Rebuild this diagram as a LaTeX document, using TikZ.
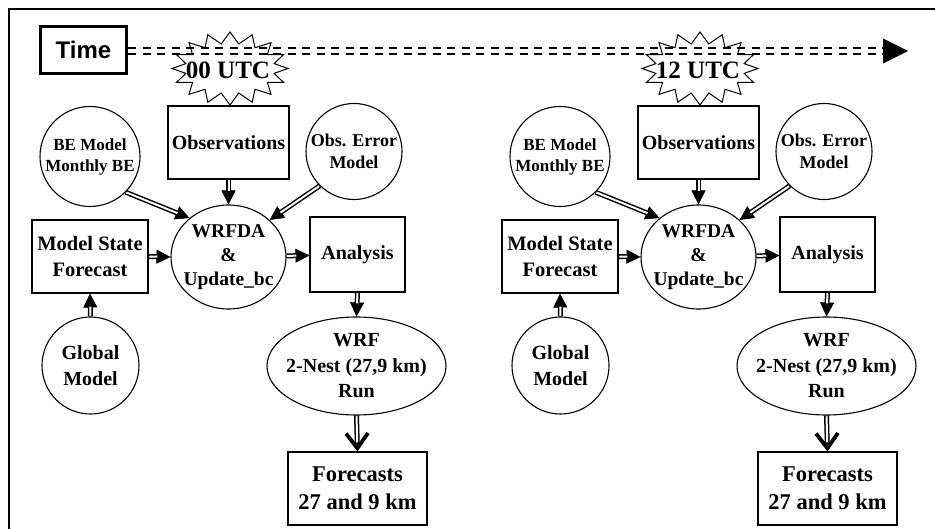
\documentclass[tikz,border=0pt]{standalone}
\usepackage{fontspec}
\setmainfont{Liberation Serif}
\newfontfamily\timefont{Liberation Sans}
\usetikzlibrary{arrows.meta,shapes.geometric,calc}
\begin{document}
\begin{tikzpicture}[x=1pt,y=-1pt,
  txt/.style={align=center, inner sep=0pt, font=\bfseries\fontsize{20}{25}\selectfont},
  box/.style={txt, draw, line width=1.1pt},
  roundn/.style={txt, draw, circle, line width=1.1pt},
  ovaln/.style={draw, ellipse, inner sep=0pt, line width=1.1pt},
  dbl/.style={line width=5pt, -{Triangle[length=14pt,width=14pt,line width=0.6pt]},
    postaction={draw=white, line width=2pt, shorten >=13pt, shorten <=0.7pt, -}},
  dblbarb/.style={line width=5pt, -{Straight Barb[length=15pt,width=22pt,line width=3.8pt]},
    postaction={draw=white, line width=2pt, shorten >=9pt, shorten <=0.7pt, -}},
  starline/.style={line width=1pt}
]
\useasboundingbox (0,0) rectangle (935,529);
\draw[line width=1.2pt] (9,529) -- (9,9) -- (935,9);

% time axis
\node[draw, line width=3pt, minimum width=86pt, minimum height=47pt, inner sep=0pt,
      font=\timefont\bfseries\fontsize{24}{28}\selectfont] (time) at (83.5,50) {Time};
\coordinate (tbase) at (883,51);
\coordinate (tend) at (908,51);
\draw[line width=2.4pt, double=white, double distance=4pt, dash pattern=on 8pt off 6.5pt]
  (time.east |- tbase) -- (tbase);
\fill (tend) -- ($(tbase)+(0,-12.5)$) -- ($(tbase)+(0,12.5)$) -- cycle;

\foreach \dx/\s/\hh in {0/A/00, 470/B/12} {
  % starburst
  \coordinate (star\s) at ({\dx+230},68.5);
  \draw[starline] ($(star\s)+(0:58 and 36.5)$)
    \foreach \k in {0,...,15} {
      -- ($(star\s)+({\k*22.5+11.25}:45 and 25)$)
      -- ($(star\s)+({(\k+1)*22.5}:58 and 36.5)$)
    } -- cycle;
  \node[inner sep=0pt, font=\bfseries\fontsize{25}{28}\selectfont] (utc\s) at ({\dx+228},70) {\hh\ UTC};

  % nodes
  \node[box, minimum width=121pt, minimum height=73pt] (obs\s) at ({\dx+228.5},142.5) {Observations};
  \node[roundn, minimum size=100pt, font=\bfseries\fontsize{17}{21}\selectfont] (be\s) at ({\dx+90},156.5) {BE Model\\Monthly BE};
  \node[roundn, minimum size=96pt, font=\bfseries\fontsize{18}{22}\selectfont] (oerr\s) at ({\dx+354},151.5) {Obs. Error\\Model};
  \node[box, minimum width=116pt, minimum height=73pt, font=\bfseries\fontsize{20.5}{26}\selectfont] (msf\s) at ({\dx+90},256.5) {Model State\\Forecast};
  \node[ovaln, minimum width=115pt, minimum height=104pt] (wrfda\s) at ({\dx+228.5},257) {};
  \node[txt, font=\bfseries\fontsize{19.5}{24}\selectfont] (wrfdatxt\s) at (wrfda\s) {WRFDA\\\&\\Update\_bc};
  \node[box, minimum width=95pt, minimum height=75pt] (ana\s) at ({\dx+357.5},254.5) {Analysis};
  \node[roundn, minimum size=97pt, font=\bfseries\fontsize{20}{26}\selectfont] (glob\s) at ({\dx+90.5},365.5) {Global\\Model};
  \node[ovaln, minimum width=179pt, minimum height=98pt] (wrf\s) at ({\dx+356.5},366) {};
  \node[txt, font=\bfseries\fontsize{20}{25.5}\selectfont] (wrftxt\s) at (wrf\s) {WRF\\2-Nest (27,9 km)\\Run};
  \node[box, minimum width=139pt, minimum height=73pt, font=\bfseries\fontsize{22.5}{28}\selectfont] (fc\s) at ({\dx+357.5},488.5) {Forecasts\\27 and 9 km};

  % connectors
  \draw[dbl] (obs\s.south) -- (wrfda\s.north);
  \draw[dbl] (be\s.-45) -- (wrfda\s.135);
  \draw[dbl] (oerr\s.-135) -- (wrfda\s.42);
  \draw[dbl] (msf\s.east) -- (wrfda\s.west);
  \draw[dbl] (wrfda\s) -- (ana\s);
  \draw[dbl] (ana\s.south) -- (wrf\s.north);
  \draw[dbl] (glob\s.north) -- (msf\s.south);
  \draw[dblbarb] (wrf\s.south) -- (fc\s.north);
}
\end{tikzpicture}
\end{document}
